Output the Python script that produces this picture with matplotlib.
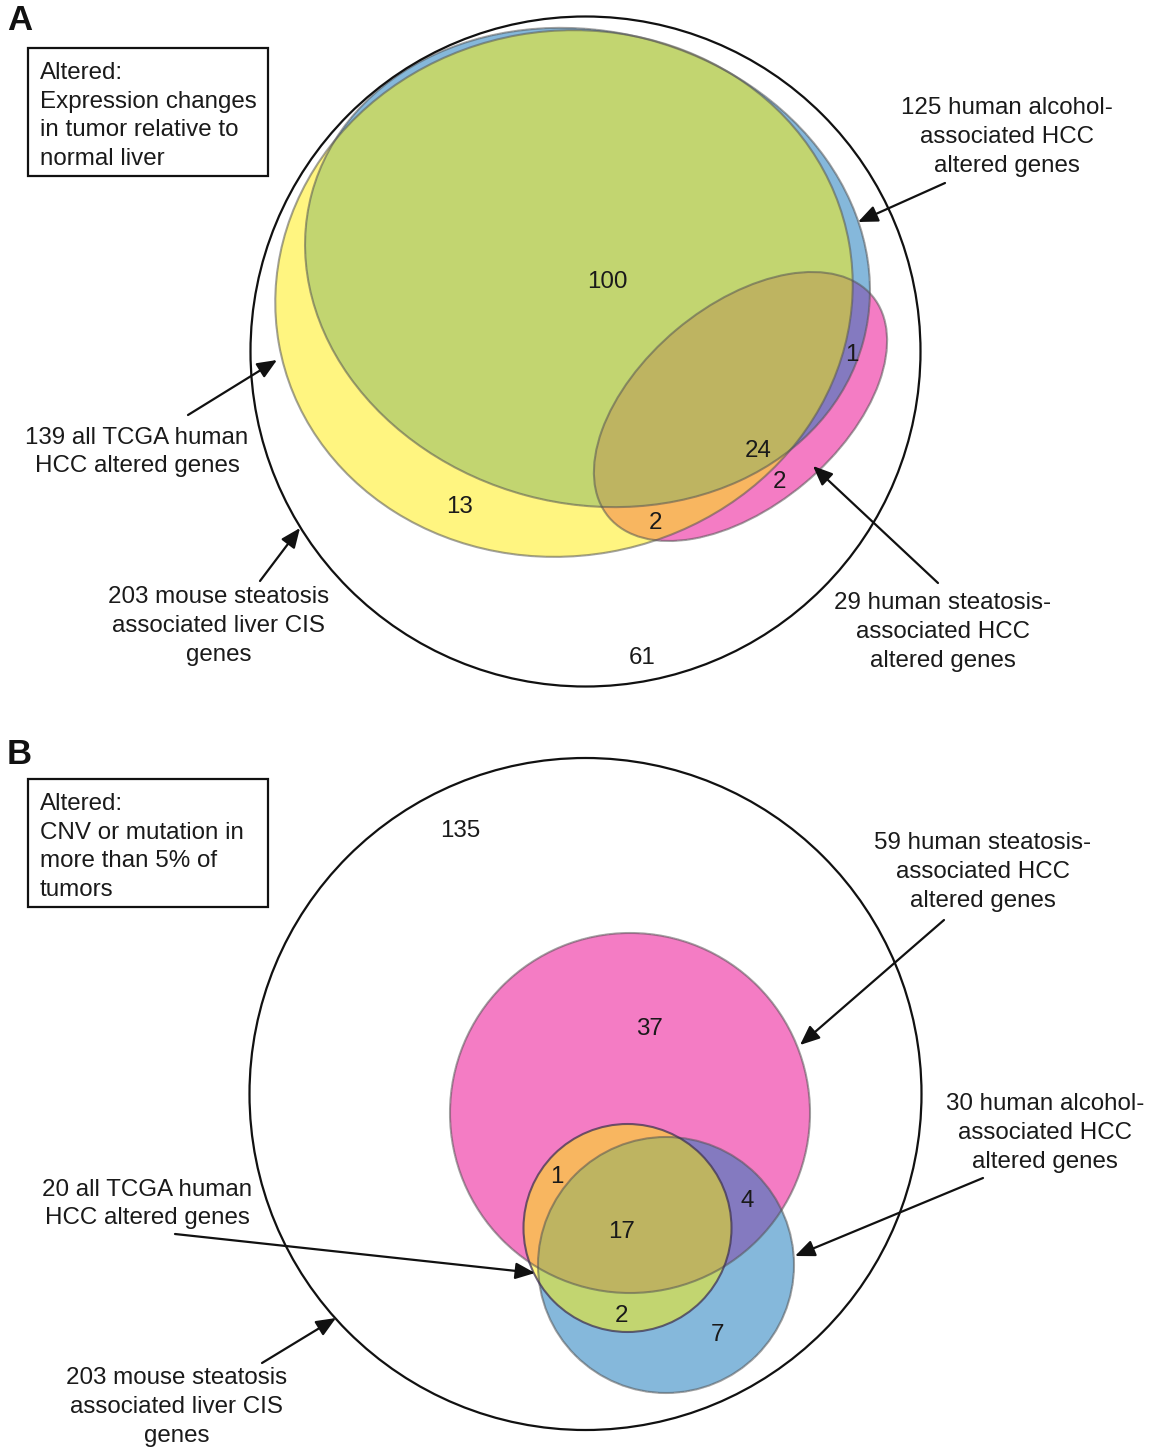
import numpy as np
import matplotlib
matplotlib.use('Agg')
import matplotlib.pyplot as plt
from matplotlib.patches import Ellipse, Circle, Rectangle, FancyArrowPatch

plt.rcParams['font.family'] = ['Liberation Sans', 'DejaVu Sans']

W, H = 1156, 1447

# set sizes used in the labels
a_sets = [125, 139, 203, 29]   # alcohol, TCGA, mouse CIS, steatosis
b_sets = [59, 30, 20, 203]     # steatosis, alcohol, TCGA, mouse CIS

# region counts
a_counts = [100, 13, 2, 24, 2, 1, 61]
b_counts = [135, 37, 1, 4, 17, 2, 7]

FS = 17.4
LS = 1.4
DY = 2  # small baseline nudge for all text

# region colours, index = yellow(1) + blue(2) + pink(4)
region_rgb = np.array([
    [255, 255, 255],
    [255, 245, 128],
    [133, 184, 219],
    [194, 213, 112],
    [244, 124, 196],
    [248, 182, 96],
    [132, 122, 192],
    [190, 180, 97],
]) / 255.0

# shapes: (cx, cy, width, height, angle)
yel_a = (564, 293.5, 579, 525, -10)
blu_a = (587.5, 267.5, 571, 472, 15)
pnk_a = (740.5, 406.5, 344, 200, -40)
yel_b = (627.5, 1228, 208, 208, 0)
blu_b = (666, 1265, 256, 256, 0)
pnk_b = (630, 1113, 360, 360, 0)

ss = 2
Y, X = np.mgrid[0:H * ss, 0:W * ss]
X = (X + 0.5) / ss
Y = (Y + 0.5) / ss


def inside(cx, cy, w, h, ang):
    t = np.deg2rad(ang)
    dx, dy = X - cx, Y - cy
    u = dx * np.cos(t) + dy * np.sin(t)
    v = -dx * np.sin(t) + dy * np.cos(t)
    return (u / (w / 2)) ** 2 + (v / (h / 2)) ** 2 <= 1


code = (inside(*yel_a) | inside(*yel_b)).astype(int) \
    + 2 * (inside(*blu_a) | inside(*blu_b)) \
    + 4 * (inside(*pnk_a) | inside(*pnk_b))
rgb = region_rgb[code]
rgb = rgb.reshape(H, ss, W, ss, 3).mean(axis=(1, 3))

fig = plt.figure(figsize=(W / 100, H / 100), dpi=100)
ax = fig.add_axes([0, 0, 1, 1])
ax.set_xlim(0, W)
ax.set_ylim(H, 0)
ax.axis('off')
ax.imshow(rgb, extent=(0, W, H, 0), interpolation='none', zorder=1)

lw = 1.5
for sh in [yel_a, blu_a, pnk_a, pnk_b, blu_b]:
    cx, cy, w, h, ang = sh
    ax.add_patch(Ellipse((cx, cy), w, h, angle=ang, fill=False,
                         edgecolor='#555555', alpha=0.55, lw=lw, zorder=2))
cx, cy, w, h, ang = yel_b
ax.add_patch(Ellipse((cx, cy), w, h, angle=ang, fill=False,
                     edgecolor='#3f3356', alpha=0.75, lw=lw, zorder=2))

# mouse CIS circles
ax.add_patch(Circle((585.5, 351.5), 335, fill=False, edgecolor='#111111', lw=1.6, zorder=2))
ax.add_patch(Circle((585.5, 1094), 336, fill=False, edgecolor='#111111', lw=1.6, zorder=2))

# panel letters
ax.text(7, 21, 'A', fontsize=25, fontweight='bold', va='center', ha='left', color='#111111')
ax.text(7, 754, 'B', fontsize=25, fontweight='bold', va='center', ha='left', color='#111111')

# definition boxes
for y0, txt in [(48, 'Altered:\nExpression changes\nin tumor relative to\nnormal liver'),
                (779, 'Altered:\nCNV or mutation in\nmore than 5% of\ntumors')]:
    ax.add_patch(Rectangle((28, y0), 240, 128, fill=False, edgecolor='#111111', lw=1.6, zorder=3))
    ax.text(40, y0 + 66 + DY, txt, fontsize=FS, va='center', ha='left', linespacing=LS,
            color='#1a1a1a', zorder=3)


def label(x, y, txt):
    ax.text(x, y + DY, txt, fontsize=FS, ha='center', va='center', multialignment='center',
            linespacing=LS, color='#1a1a1a', zorder=3)


def arrow(x0, y0, x1, y1):
    ax.add_patch(FancyArrowPatch((x0, y0), (x1, y1),
                                 arrowstyle='-|>,head_length=0.85,head_width=0.36',
                                 mutation_scale=14, color='#111111', lw=1.6,
                                 shrinkA=0, shrinkB=0, zorder=4))


# panel A labels
label(1007, 135, f'{a_sets[0]} human alcohol-\nassociated HCC\naltered genes')
arrow(945, 183, 858, 222)
label(137, 450, f'{a_sets[1]} all TCGA human\nHCC altered genes')
arrow(188, 415, 277, 360)
label(219, 624, f'{a_sets[2]} mouse steatosis\nassociated liver CIS\ngenes')
arrow(260, 581, 300, 528)
label(943, 630, f'{a_sets[3]} human steatosis-\nassociated HCC\naltered genes')
arrow(938, 583, 813, 466)

a_pos = [(607, 280), (460, 505), (656, 521), (758, 449), (779, 480), (852, 353), (642, 656)]
for (x, y), n in zip(a_pos, a_counts):
    label(x, y, str(n))

# panel B labels
label(983, 870, f'{b_sets[0]} human steatosis-\nassociated HCC\naltered genes')
arrow(944, 920, 800, 1045)
label(1045, 1131, f'{b_sets[1]} human alcohol-\nassociated HCC\naltered genes')
arrow(983, 1178, 795, 1256)
label(147, 1202, f'{b_sets[2]} all TCGA human\nHCC altered genes')
arrow(175, 1234, 535, 1273)
label(177, 1405, f'{b_sets[3]} mouse steatosis\nassociated liver CIS\ngenes')
arrow(262, 1363, 336, 1318)

b_pos = [(460, 829), (649, 1027), (557, 1175), (747, 1199), (622, 1230), (622, 1314), (717, 1333)]
for (x, y), n in zip(b_pos, b_counts):
    label(x, y, str(n))

fig.savefig('out.png', dpi=100)
